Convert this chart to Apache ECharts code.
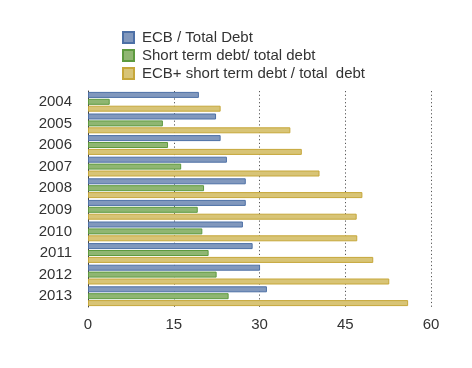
<!DOCTYPE html>
<html><head><meta charset="utf-8">
<script src="https://cdn.jsdelivr.net/npm/echarts@6/dist/echarts.min.js"></script>
<style>html,body{margin:0;padding:0;background:#fff}#c{width:472px;height:368px}</style>
</head><body><div id="c"></div>
<script>
var years = ['2004','2005','2006','2007','2008','2009','2010','2011','2012','2013'];
var ecbTotal = [19.4,22.4,23.2,24.3,27.6,27.6,27.1,28.8,30.1,31.3];
var shortTotal = [3.8,13.1,14.0,16.3,20.3,19.2,20.0,21.1,22.5,24.6];
var ecbShortTotal = [23.2,35.4,37.4,40.5,48.0,47.0,47.1,49.9,52.7,56.0];
var seriesNames = ['ECB / Total Debt','Short term debt/ total debt','ECB+ short term debt / total  debt'];
var xTicks = [0,15,30,45,60];

var fills = ['#8198bd','#8fb672','#d8c476'];
var borders = ['#4d70a6','#5d9a3f','#c6a73a'];
var vals = [ecbTotal, shortTotal, ecbShortTotal];
var chart = echarts.init(document.getElementById('c'));
chart.setOption({
  animation:false,
  textStyle:{fontFamily:'Liberation Sans, Arial, sans-serif'},
  legend:{
    orient:'vertical', left:117, top:25, itemWidth:11, itemHeight:11, itemGap:3,
    icon:'rect',
    textStyle:{fontSize:15, color:'#333', padding:[0,0,0,3], fontFamily:'Liberation Sans, Arial, sans-serif'},
    data:seriesNames
  },
  grid:{left:88, right:472-431, top:91, bottom:368-307, containLabel:false},
  xAxis:{
    type:'value', min:xTicks[0], max:xTicks[xTicks.length-1], interval:15,
    axisLine:{show:false}, axisTick:{show:false},
    axisLabel:{fontSize:15, color:'#333', margin:10},
    splitLine:{show:true, lineStyle:{type:[1.2,2.5], color:'#555', width:1}}
  },
  yAxis:{
    type:'category', data:years, inverse:true,
    axisLine:{show:true, lineStyle:{color:'#444', width:1}}, axisTick:{show:false},
    axisLabel:{fontSize:15, color:'#333', margin:16}
  },
  series: seriesNames.map(function(n,i){
    return {
      name:n, type:'bar', data:vals[i], barWidth:6, barGap:'15%',
      itemStyle:{color:fills[i], borderColor:borders[i], borderWidth:1},
      emphasis:{disabled:true}
    };
  })
});
</script></body></html>
